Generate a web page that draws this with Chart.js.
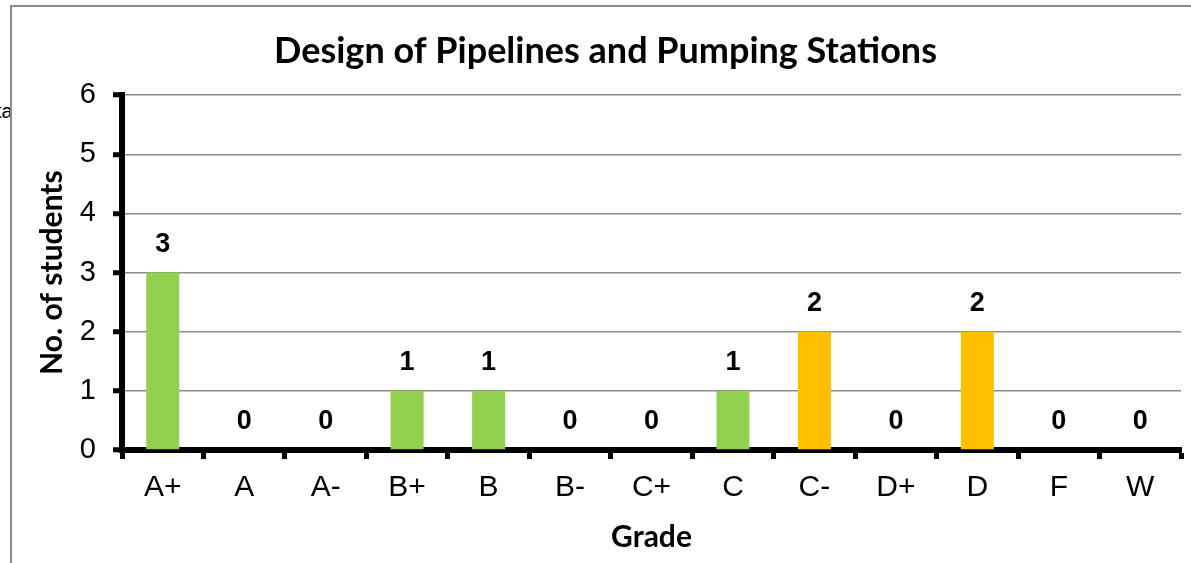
<!DOCTYPE html>
<html>
<head>
<meta charset="utf-8">
<script src="https://cdn.jsdelivr.net/npm/chart.js@4"></script>
<style>
  html, body { margin: 0; padding: 0; background: #fff; overflow: hidden; }
  #wrap { position: relative; width: 1191px; height: 563px; }
  #reste { position: absolute; left: -4px; top: 99px; font: 20px/24px "Liberation Sans", Arial, sans-serif; color: #000; }
  #cadre { position: absolute; left: 10px; top: 5px; width: 1200px; height: 600px; border: 2px solid #8c8c8c; box-sizing: border-box; background: #fff; }
  canvas { position: absolute; left: 0; top: 0; }
</style>
</head>
<body>
<div id="wrap">
  <div id="reste">ta</div>
  <div id="cadre"></div>
  <canvas id="graph1" width="1191" height="563"></canvas>
</div>
<script>
// =======================
// Données
// =======================
const notes = ["A+", "A", "A-", "B+", "B", "B-", "C+", "C", "C-", "D+", "D", "F", "W"];
const nbEtudiants = [3, 0, 0, 1, 1, 0, 0, 1, 2, 0, 2, 0, 0];
const couleurs = ["#92D050", "#92D050", "#92D050", "#92D050", "#92D050", "#92D050", "#92D050",
                  "#92D050", "#FFC000", "#92D050", "#FFC000", "#92D050", "#92D050"];
const ticksY = [0, 1, 2, 3, 4, 5, 6];

// Étiquettes au-dessus des barres
const etiquettes = {
  id: "etiquettes",
  afterDatasetsDraw(chart) {
    const ctx = chart.ctx;
    const meta = chart.getDatasetMeta(0);
    ctx.save();
    ctx.font = "bold 27px 'Liberation Sans', Arial, sans-serif";
    ctx.fillStyle = "#000";
    ctx.textAlign = "center";
    ctx.textBaseline = "middle";
    meta.data.forEach((bar, i) => {
      ctx.fillText(String(nbEtudiants[i]), bar.x, bar.y - 28);
    });
    ctx.restore();
  }
};

new Chart(document.getElementById("graph1"), {
  type: "bar",
  data: {
    labels: notes,
    datasets: [{
      data: nbEtudiants,
      backgroundColor: couleurs,
      borderWidth: 0,
      barPercentage: 0.405,
      categoryPercentage: 1
    }]
  },
  plugins: [etiquettes],
  options: {
    responsive: false,
    animation: false,
    layout: { padding: { left: 30, right: 10, top: 10, bottom: 4 } },
    plugins: {
      legend: { display: false },
      tooltip: { enabled: false },
      title: {
        display: true,
        text: "Design of Pipelines and Pumping Stations",
        color: "#000",
        font: { family: "Lato", size: 36, weight: "bold" },
        padding: { top: 20, bottom: 22 }
      }
    },
    scales: {
      x: {
        afterFit: (axis) => { axis.height = 109; },
        grid: { drawOnChartArea: false, tickLength: 9, tickColor: "#000", tickWidth: 5 },
        border: { color: "#000", width: 6 },
        ticks: { color: "#000", font: { family: "Liberation Sans", size: 30 }, padding: 11 },
        title: {
          display: true, text: "Grade", color: "#000",
          font: { family: "Lato", size: 30, weight: "bold" },
          padding: { top: 4, bottom: 4 }
        }
      },
      y: {
        min: 0,
        max: 6,
        afterFit: (axis) => { axis.width = 92; },
        afterBuildTicks: (axis) => { axis.ticks = ticksY.map(v => ({ value: v })); },
        grid: { color: "#8c8c8c", lineWidth: 1.5, tickLength: 9, tickColor: "#000", tickWidth: 5 },
        border: { color: "#000", width: 6 },
        ticks: { color: "#000", font: { family: "Liberation Sans", size: 29 }, padding: 17 },
        title: {
          display: true, text: "No. of students", color: "#000",
          font: { family: "Lato", size: 30, weight: "bold" },
          padding: { top: 4, bottom: 4 }
        }
      }
    }
  }
});
</script>
</body>
</html>
